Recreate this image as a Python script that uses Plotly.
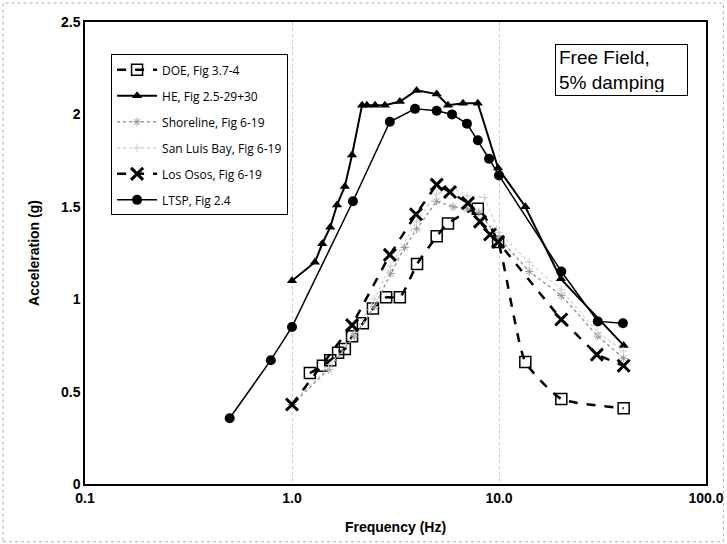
import plotly.graph_objects as go

# ---- data ----
doe_f = [1.22, 1.41, 1.53, 1.67, 1.80, 1.95, 2.20, 2.46, 2.85, 3.32, 4.02, 5.0, 5.67, 7.9, 9.9, 13.4, 20.0, 40.0]
doe_a = [0.60, 0.64, 0.67, 0.71, 0.73, 0.80, 0.87, 0.95, 1.01, 1.01, 1.19, 1.34, 1.41, 1.49, 1.31, 0.66, 0.46, 0.41]

he_f = [1.0, 1.29, 1.40, 1.53, 1.65, 1.80, 1.95, 2.18, 2.30, 2.52, 2.81, 3.32, 4.0, 5.0, 5.67, 6.7, 7.9, 9.9, 13.4, 19.9, 40.0]
he_a = [1.10, 1.20, 1.30, 1.39, 1.51, 1.61, 1.78, 2.05, 2.05, 2.05, 2.05, 2.07, 2.13, 2.11, 2.05, 2.06, 2.06, 1.71, 1.50, 1.11, 0.75]

shore_f = [1.0, 1.5, 2.0, 2.5, 3.0, 3.5, 4.0, 5.0, 6.0, 7.0, 8.0, 10.0, 14.0, 20.0, 30.0, 40.0]
shore_a = [0.43, 0.62, 0.80, 0.96, 1.14, 1.28, 1.38, 1.53, 1.50, 1.49, 1.47, 1.33, 1.15, 1.02, 0.80, 0.68]

slb_f = [1.0, 1.5, 2.0, 2.5, 3.0, 4.0, 5.0, 6.0, 7.0, 8.5, 10.0, 14.0, 20.0, 30.0, 40.0]
slb_a = [0.44, 0.63, 0.82, 1.00, 1.18, 1.42, 1.57, 1.60, 1.56, 1.55, 1.36, 1.20, 1.05, 0.82, 0.72]

lo_f = [1.0, 1.95, 2.97, 3.97, 5.0, 5.8, 7.08, 8.1, 9.05, 9.9, 20.0, 29.7, 40.0]
lo_a = [0.43, 0.86, 1.24, 1.46, 1.62, 1.58, 1.52, 1.42, 1.35, 1.31, 0.89, 0.70, 0.64]

ltsp_f = [0.5, 0.79, 1.0, 1.97, 2.97, 3.93, 5.0, 5.93, 7.0, 7.9, 8.95, 10.0, 20.0, 30.0, 39.7]
ltsp_a = [0.356, 0.67, 0.85, 1.53, 1.96, 2.03, 2.02, 2.00, 1.95, 1.86, 1.76, 1.67, 1.15, 0.88, 0.87]

x_tickvals = [0.1, 1, 10, 100]
x_ticktext = ["0.1", "1.0", "10.0", "100.0"]
y_tickvals = [0, 0.5, 1, 1.5, 2, 2.5]
y_ticktext = ["0", "0.5", "1", "1.5", "2", "2.5"]

fig = go.Figure()

fig.add_trace(go.Scatter(x=doe_f, y=doe_a, name="DOE, Fig 3.7-4", mode="lines+markers",
    line=dict(color="black", width=2.5, dash="dash", shape="spline", smoothing=0.5),
    marker=dict(symbol="square-open", size=11, color="black", line=dict(width=1.5)),
    legendgroup="a"))
fig.add_trace(go.Scatter(x=he_f, y=he_a, name="HE, Fig 2.5-29+30", mode="lines+markers",
    line=dict(color="black", width=2),
    marker=dict(symbol="triangle-up", size=9, color="black"),
    legendgroup="b"))
fig.add_trace(go.Scatter(x=shore_f, y=shore_a, name="Shoreline, Fig 6-19", mode="lines+markers",
    line=dict(color="#9a9a9a", width=1.5, dash="dot"),
    marker=dict(symbol="asterisk-open", size=7, color="#9a9a9a", line=dict(width=1)),
    legendgroup="c"))
fig.add_trace(go.Scatter(x=slb_f, y=slb_a, name="San Luis Bay, Fig 6-19", mode="lines+markers",
    line=dict(color="#d0d0d0", width=1.2, dash="dot"),
    marker=dict(symbol="cross-thin-open", size=6, color="#d0d0d0", line=dict(width=1)),
    legendgroup="d"))
fig.add_trace(go.Scatter(x=lo_f, y=lo_a, name="Los Osos, Fig 6-19", mode="lines+markers",
    line=dict(color="black", width=2.5, dash="dash"),
    marker=dict(symbol="x-thin-open", size=12, color="black", line=dict(width=3)),
    legendgroup="e"))
fig.add_trace(go.Scatter(x=ltsp_f, y=ltsp_a, name="LTSP, Fig 2.4", mode="lines+markers",
    line=dict(color="black", width=1.5),
    marker=dict(symbol="circle", size=10, color="black"),
    legendgroup="f"))

axfont = dict(family="Liberation Sans, Arial", size=14, color="black", weight="bold")
fig.update_xaxes(type="log", range=[-1, 2], tickvals=x_tickvals, ticktext=x_ticktext,
    showline=True, linecolor="black", linewidth=1.5, mirror=True,
    showgrid=True, gridcolor="#c8c8c8", griddash="dot", gridwidth=1,
    ticks="", zeroline=False, automargin=False,
    tickfont=axfont,
    title=dict(text="Frequency (Hz)", font=axfont, standoff=18))
fig.update_yaxes(range=[0, 2.5], tickvals=y_tickvals, ticktext=y_ticktext,
    showline=True, linecolor="black", linewidth=1.5, mirror=True,
    showgrid=False, ticks="", zeroline=False, automargin=False,
    tickfont=axfont,
    title=dict(text="Acceleration (g)", font=axfont, standoff=18))

fig.update_layout(
    width=727, height=544,
    margin=dict(l=85, r=21, t=22, b=60),
    paper_bgcolor="white", plot_bgcolor="white",
    showlegend=True,
    legend=dict(x=0.042, y=0.93, xanchor="left", yanchor="top",
        bgcolor="white", bordercolor="black", borderwidth=1,
        font=dict(family="Open Sans, Calibri, sans-serif", size=12, color="black"),
        tracegroupgap=7, traceorder="grouped", itemwidth=40),
    annotations=[dict(xref="paper", yref="paper", x=0.971, y=0.952, xanchor="right", yanchor="top",
        text="Free Field,<br>5% damping", showarrow=False, align="left",
        width=125, height=44, valign="middle",
        font=dict(family="Liberation Sans, Arial", size=19, color="black"),
        bordercolor="black", borderwidth=1, borderpad=3, bgcolor="white")],
    shapes=[dict(type="rect", xref="paper", yref="paper",
        x0=-0.132, x1=1.028, y0=-0.125, y1=1.041,
        line=dict(color="#b0b0b0", width=1, dash="dot"))],
)

fig.write_html("out.html")
